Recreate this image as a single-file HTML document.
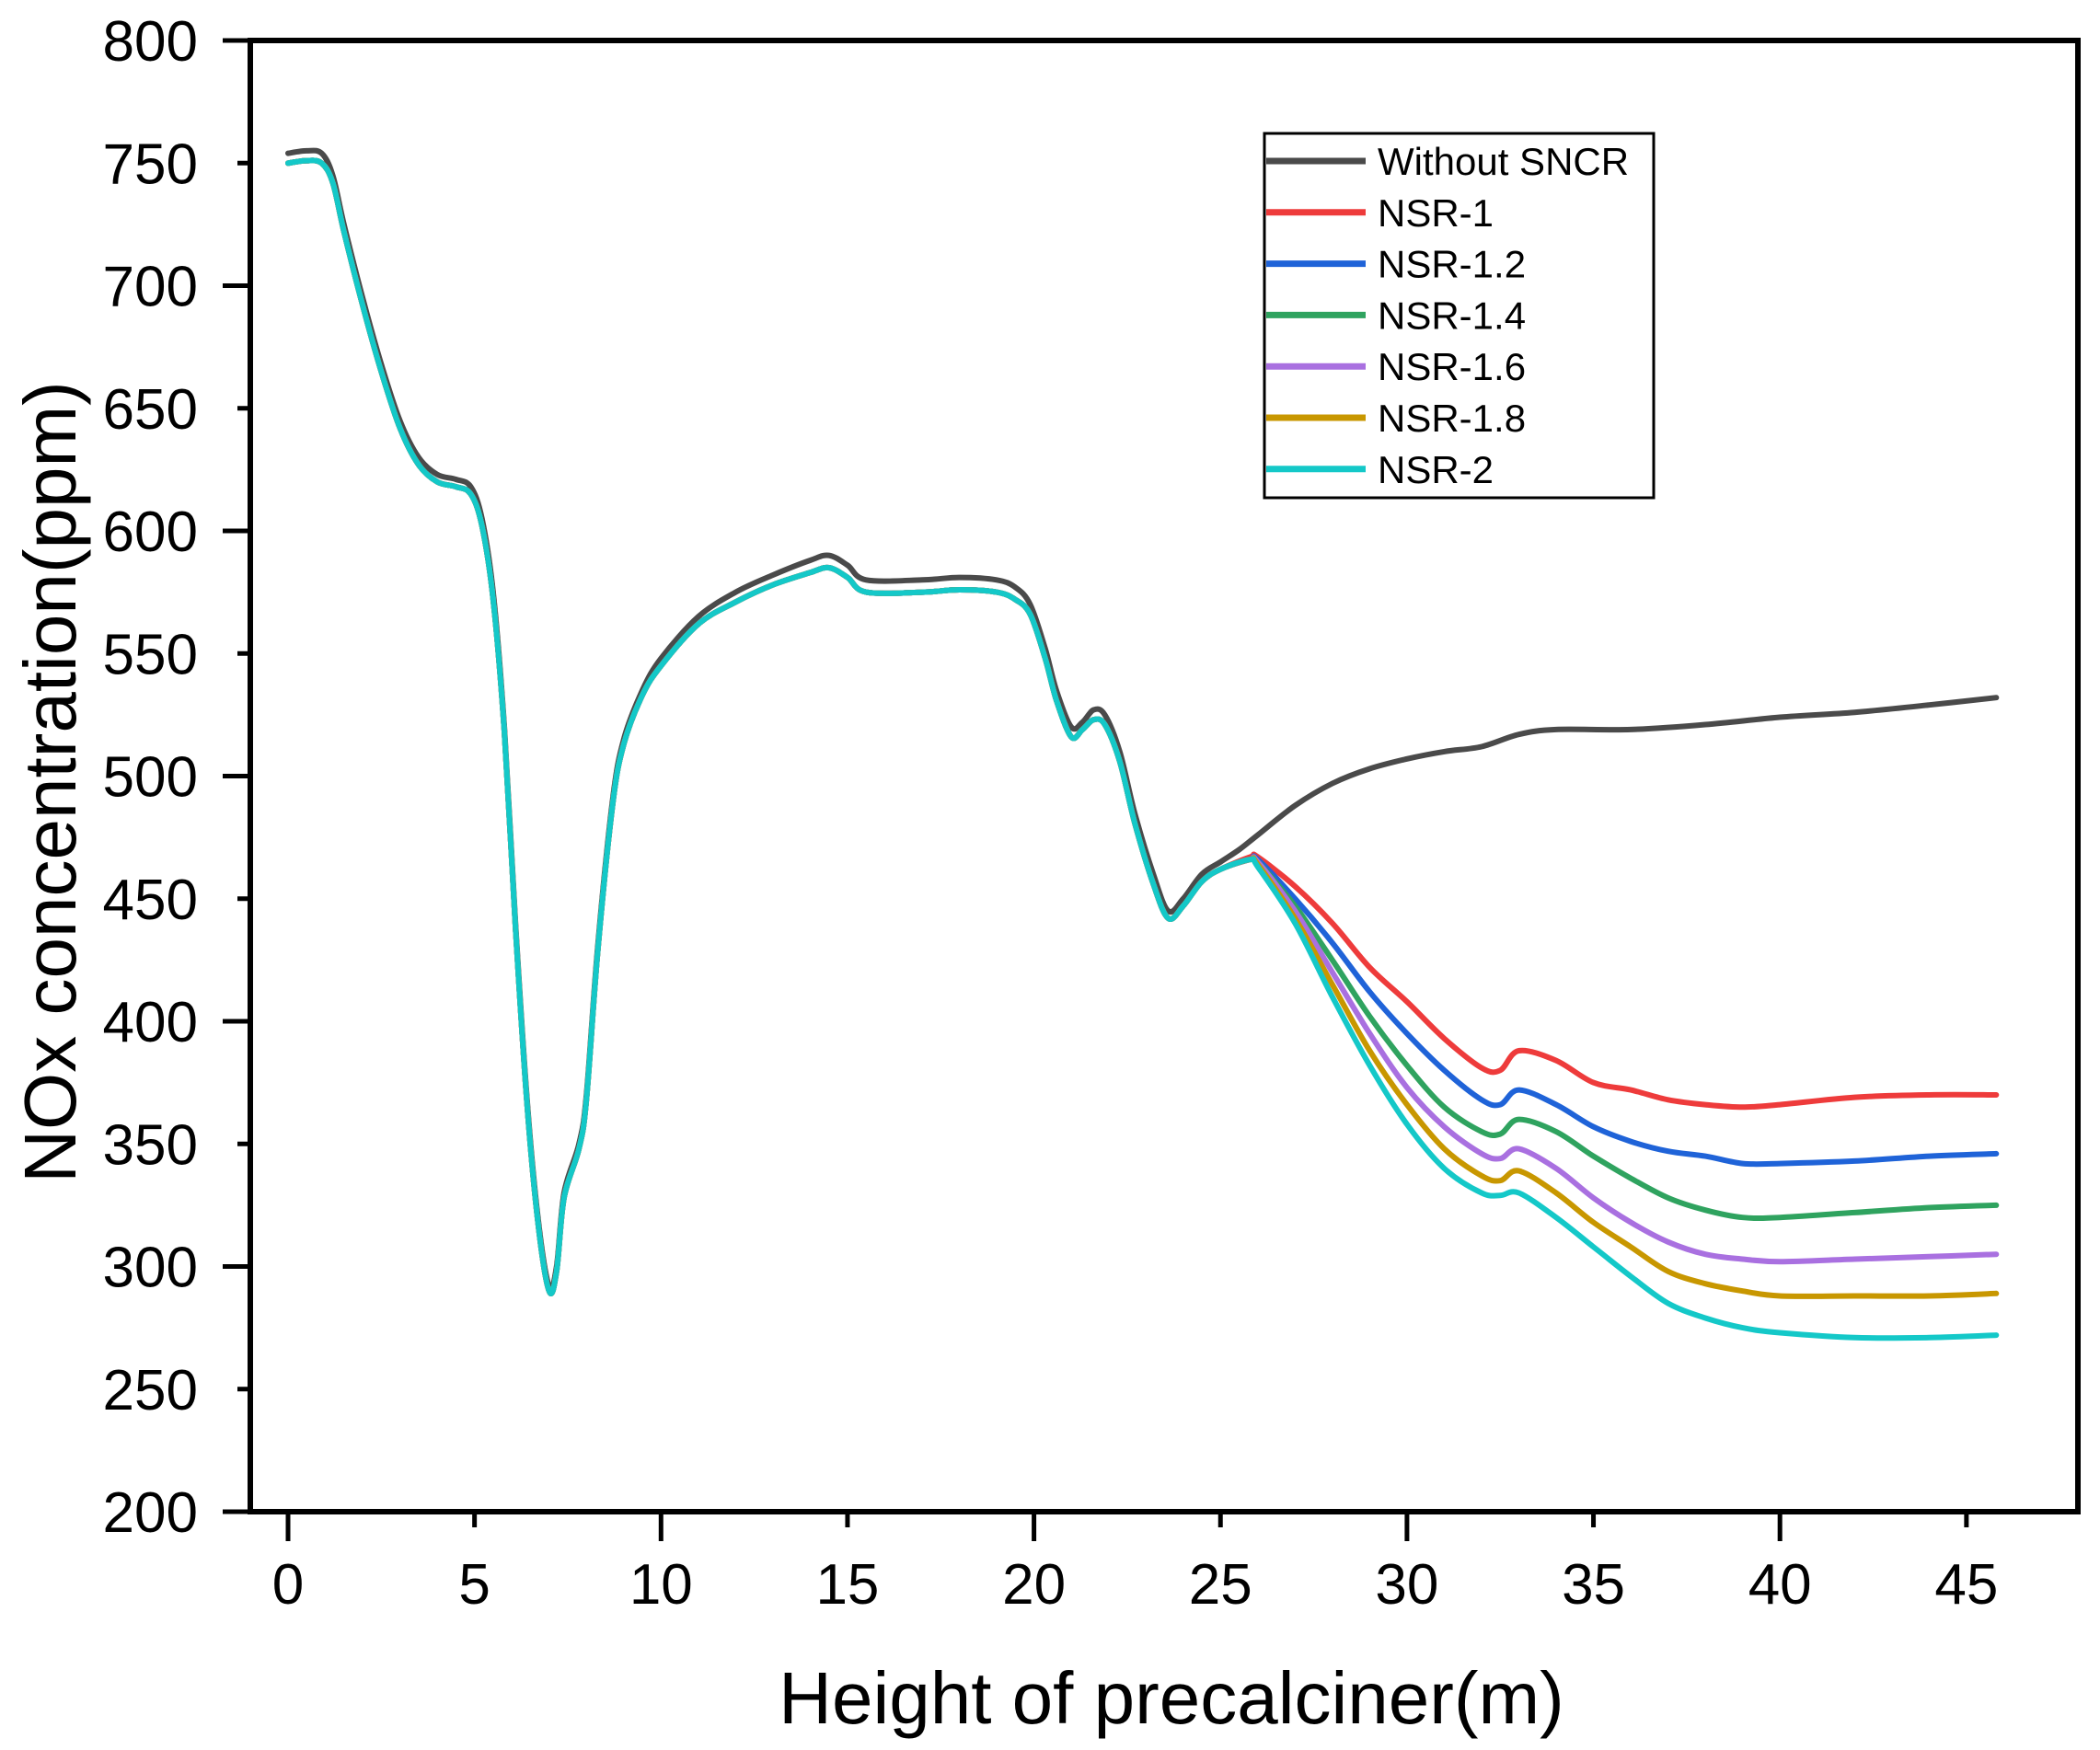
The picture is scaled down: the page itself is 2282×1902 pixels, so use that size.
<!DOCTYPE html>
<html><head><meta charset="utf-8"><style>
html,body{margin:0;padding:0;background:#fff;}
svg{display:block;font-family:"Liberation Sans",Arial,sans-serif;}
</style></head><body>
<svg id="chart" width="2282" height="1902" viewBox="0 0 2282 1902" xmlns="http://www.w3.org/2000/svg">
<g id="plot"></g>
<g id="axes"></g>
<text x="0" y="0" transform="translate(82,850) rotate(-90)" text-anchor="middle" font-size="80">NOx concentration(ppm)</text>
<text x="1273" y="1873" text-anchor="middle" font-size="80">Height of precalciner(m)</text>
<g id="legend"></g>
</svg>
<script>
const xTicks=[0,5,10,15,20,25,30,35,40,45];
const yTicks=[200,250,300,350,400,450,500,550,600,650,700,750,800];
const seriesNames=["Without SNCR","NSR-1","NSR-1.2","NSR-1.4","NSR-1.6","NSR-1.8","NSR-2"];
const seriesColors=["#4a4a4a","#ee3b3b","#1f63d8","#2fa35f","#a970e0","#c89700","#14c8c8"];
const baseX=[0,0.5,0.9,1.2,1.5,2,2.5,3,3.5,4,4.5,4.9,5.2,5.5,5.8,6.1,6.4,6.7,7.0,7.2,7.4,7.8,8.0,8.3,8.7,9,9.5,10,11,12,13,14,14.5,15,15.5,17,18,19,19.5,19.9,20.3,20.6,21,21.3,21.6,21.9,22.3,22.7,23.2,23.6,24,24.5,25];
const noSncrY=[754,755,754,745,725,695,668,645,630,623,621,618,605,575,520,440,370,320,292,300,330,350,370,430,490,515,535,548,565,575,582,588,590,586,580,580,581,580,577,570,552,535,520,522,527,525,510,485,460,445,450,460,465];
const nsrBaseY=[750,751,750,742,722,692,665,642,627,620,618,615,602,572,518,438,368,318,290,298,328,348,368,428,488,513,533,545,562,571,578,583,585,581,575,575,576,575,572,566,548,531,516,519,523,521,506,481,456,442,447,457,462];
const noSncrTailX=[25.5,26,27,28,29,30,31,32,33,34,36,38,40,42,44,45.8];
const noSncrTailY=[470,476,488,497,503,507,510,512,517,519,519,521,524,526,529,532];
const tailX=[25.8,26,27,28,29,30,31,32,32.5,33,34,35,36,37,38,39,40,42,44,45.8];
const nsr1Y=[467,467,455,440,422,408,393,381,380,388,384,375,372,368,366,365,366,369,370,370];
const nsr12Y=[466,466,450,432,412,395,380,368,366,372,366,357,351,347,345,342,342,343,345,346];
const nsr14Y=[466,465,447,425,402,382,365,355,354,360,355,345,336,328,323,320,320,322,324,325];
const nsr16Y=[466,465,445,420,395,373,357,346,344,348,340,328,318,310,305,303,302,303,304,305];
const nsr18Y=[466,464,442,415,388,366,348,337,335,339,330,318,308,298,293,290,288,288,288,289];
const nsr2Y=[466,463,440,410,382,358,340,330,329,330,320,308,296,285,279,275,273,271,271,272];

const X0=313, XPX=40.53, Y800=44, YPX=133.25/50;
const sx=v=>X0+v*XPX;
const sy=v=>Y800+(800-v)*YPX;
const NS="http://www.w3.org/2000/svg";
function mk(tag,attrs,parent){const e=document.createElementNS(NS,tag);for(const k in attrs)e.setAttribute(k,attrs[k]);parent.appendChild(e);return e;}
function pathD(xs,ys){
  const p=xs.map((x,i)=>[sx(x),sy(ys[i])]);
  let d="M"+p[0][0].toFixed(1)+","+p[0][1].toFixed(1);
  for(let i=0;i<p.length-1;i++){
    const p0=p[i-1]||p[i],p1=p[i],p2=p[i+1],p3=p[i+2]||p2;
    const c1=[p1[0]+(p2[0]-p0[0])/6,p1[1]+(p2[1]-p0[1])/6];
    const c2=[p2[0]-(p3[0]-p1[0])/6,p2[1]-(p3[1]-p1[1])/6];
    d+="C"+c1.map(v=>v.toFixed(1)).join(",")+" "+c2.map(v=>v.toFixed(1)).join(",")+" "+p2[0].toFixed(1)+","+p2[1].toFixed(1);
  }
  return d;
}
const plot=document.getElementById('plot');
const tails=[nsr1Y,nsr12Y,nsr14Y,nsr16Y,nsr18Y,nsr2Y];
for(let s=0;s<=6;s++){
  let xs,ys;
  if(s===0){xs=baseX.concat(noSncrTailX);ys=noSncrY.concat(noSncrTailY);}
  else{xs=baseX.concat(tailX);ys=nsrBaseY.concat(tails[s-1]);}
  const el=mk('path',{d:pathD(xs,ys),fill:"none",stroke:seriesColors[s],"stroke-width":6,"stroke-linejoin":"round","stroke-linecap":"round"},plot);
  
  
}
const axes=document.getElementById('axes');
const frame=mk('rect',{x:272,y:44,width:1986,height:1599,fill:"none",stroke:"#000","stroke-width":6},axes);


xTicks.forEach((t,i)=>{
  const x=sx(t);
  const tk=mk('line',{x1:x,x2:x,y1:1643,y2:(i%2===0?1675:1660),stroke:"#000","stroke-width":5},axes);
  
  
  const tl=mk('text',{x:x,y:1743,"text-anchor":"middle","font-size":62},axes);
  tl.textContent=t;
  
  
});
yTicks.forEach((t,i)=>{
  const y=sy(t);
  const tk=mk('line',{x1:(i%2===0?242:258),x2:272,y1:y,y2:y,stroke:"#000","stroke-width":5},axes);
  
  
  const tl=mk('text',{x:215,y:y+22,"text-anchor":"end","font-size":62},axes);
  tl.textContent=t;
  
  
});
const lg=document.getElementById('legend');
const box=mk('rect',{x:1374,y:145,width:423,height:396,fill:"#fff",stroke:"#000","stroke-width":3},lg);


seriesNames.forEach((n,i)=>{
  const y=175+i*55.8;
  const ln=mk('line',{x1:1376,x2:1484,y1:y,y2:y,stroke:seriesColors[i],"stroke-width":7},lg);
  
  
  const tx=mk('text',{x:1497,y:y+15,"font-size":42},lg);
  tx.textContent=n;
  
  
});
</script>
</body></html>
